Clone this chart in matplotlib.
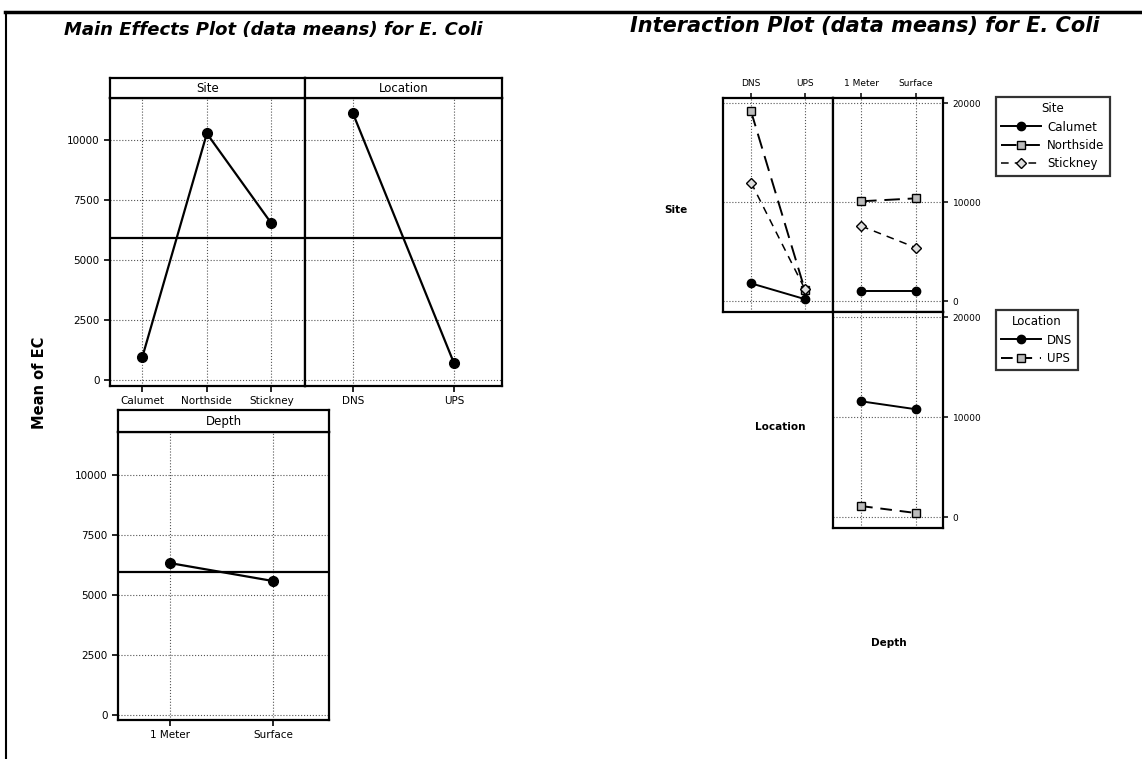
import matplotlib
matplotlib.use("Agg")
import matplotlib.pyplot as plt
from matplotlib.lines import Line2D

# main effects (data means)
site_levels = ["Calumet", "Northside", "Stickney"]
site_means = [960, 10290, 6540]
location_levels = ["DNS", "UPS"]
location_means = [11125, 710]
depth_levels = ["1 Meter", "Surface"]
depth_means = [6330, 5580]
grand_mean = 5950

# interaction means
calumet_by_location = [1800, 200]
northside_by_location = [19200, 1100]
stickney_by_location = [12000, 1200]
calumet_by_depth = [1000, 1000]
northside_by_depth = [10100, 10400]
stickney_by_depth = [7600, 5400]
dns_by_depth = [11600, 10800]
ups_by_depth = [1100, 400]

W, H = 1142, 759
fig = plt.figure(figsize=(W / 100, H / 100), dpi=100)
fig.patch.set_facecolor("white")


def box(x0, y0, x1, y1):
    return [x0 / W, 1 - y1 / H, (x1 - x0) / W, (y1 - y0) / H]


def fx(x):
    return x / W


def fy(y):
    return 1 - y / H


# frame around the page
fig.add_artist(Line2D([fx(5), fx(1142)], [fy(12), fy(12)], color="black", lw=2.5))
fig.add_artist(Line2D([fx(6), fx(6)], [fy(12), fy(759)], color="black", lw=1.5))


def style_panel(ax):
    for s in ax.spines.values():
        s.set_linewidth(1.6)
    ax.grid(True, linestyle=":", color="#555555", lw=0.8)
    ax.set_axisbelow(True)
    ax.tick_params(labelsize=7.5, length=4, width=1.2, direction="out")


def strip(rect, label):
    sa = fig.add_axes(rect)
    sa.set_xticks([])
    sa.set_yticks([])
    for s in sa.spines.values():
        s.set_linewidth(1.6)
    sa.text(0.5, 0.5, label, ha="center", va="center", fontsize=8.5)
    return sa


main_ylim = (-240, 11770)
main_yticks = [0, 2500, 5000, 7500, 10000]

# ---- Main effects plot ----
fig.text(fx(64), fy(30), "Main Effects Plot (data means) for E. Coli",
         fontsize=13, fontweight="bold", style="italic", va="center", ha="left")

ax1 = fig.add_axes(box(110, 98, 305, 386))
ax1.plot(range(3), site_means, color="black", marker="o", ms=7, lw=1.6)
ax1.axhline(grand_mean, color="black", lw=1.6)
ax1.set_xlim(-0.5, 2.52)
ax1.set_ylim(*main_ylim)
ax1.set_xticks(range(3))
ax1.set_xticklabels(site_levels)
ax1.set_yticks(main_yticks)
style_panel(ax1)
strip(box(110, 78, 305, 98), "Site")

ax2 = fig.add_axes(box(305, 98, 502, 386))
ax2.plot(range(2), location_means, color="black", marker="o", ms=7, lw=1.6)
ax2.axhline(grand_mean, color="black", lw=1.6)
ax2.set_xlim(-0.475, 1.475)
ax2.set_ylim(*main_ylim)
ax2.set_xticks(range(2))
ax2.set_xticklabels(location_levels)
ax2.set_yticks(main_yticks)
style_panel(ax2)
ax2.tick_params(axis="y", left=False, labelleft=False)
strip(box(305, 78, 502, 98), "Location")

ax3 = fig.add_axes(box(118, 432, 329, 720))
ax3.plot(range(2), depth_means, color="black", marker="o", ms=7, lw=1.6)
ax3.axhline(grand_mean, color="black", lw=1.6)
ax3.set_xlim(-0.5, 1.54)
ax3.set_ylim(-210, 11790)
ax3.set_xticks(range(2))
ax3.set_xticklabels(depth_levels)
ax3.set_yticks(main_yticks)
style_panel(ax3)
strip(box(118, 410, 329, 432), "Depth")

fig.text(fx(40), fy(383), "Mean of EC", rotation=90, fontsize=10.5,
         fontweight="bold", ha="center", va="center")

# ---- Interaction plot ----
fig.text(fx(630), fy(26), "Interaction Plot (data means) for E. Coli",
         fontsize=15, fontweight="bold", style="italic", va="center", ha="left")

int_ylim = (-1100, 20550)
int_yticks = [0, 10000, 20000]
site_styles = [
    dict(color="black", marker="o", ms=6, lw=1.4, linestyle="-", mfc="black"),
    dict(color="black", marker="s", ms=5.5, lw=1.4, linestyle=(0, (8, 4)),
         mfc="#bbbbbb", mec="black"),
    dict(color="black", marker="D", ms=5, lw=1.1, linestyle=(0, (5, 4)),
         mfc="#dddddd", mec="black"),
]
loc_styles = [
    dict(color="black", marker="o", ms=6, lw=1.4, linestyle="-", mfc="black"),
    dict(color="black", marker="s", ms=5.5, lw=1.4, linestyle=(0, (6, 4)),
         mfc="#bbbbbb", mec="black"),
]


def style_int(ax):
    for s in ax.spines.values():
        s.set_linewidth(1.6)
    ax.grid(True, linestyle=":", color="#555555", lw=0.8)
    ax.set_axisbelow(True)
    ax.set_ylim(*int_ylim)
    ax.set_yticks(int_yticks)
    ax.tick_params(labelsize=6.5, length=3.5, width=1.1, direction="out",
                   left=False, labelleft=False, bottom=False, labelbottom=False)


# Site x Location
a11 = fig.add_axes(box(723, 98, 833, 312))
site_loc = [calumet_by_location, northside_by_location, stickney_by_location]
for vals, st in zip(site_loc, site_styles):
    a11.plot(range(2), vals, **st)
a11.set_xlim(-0.52, 1.52)
a11.set_xticks(range(2))
a11.set_xticklabels(location_levels)
style_int(a11)
a11.tick_params(top=True, labeltop=True)

# Site x Depth
a12 = fig.add_axes(box(833, 98, 943, 312))
site_dep = [calumet_by_depth, northside_by_depth, stickney_by_depth]
handles_site = []
for vals, st, name in zip(site_dep, site_styles, site_levels):
    h, = a12.plot(range(2), vals, label=name, **st)
    handles_site.append(h)
a12.set_xlim(-0.51, 1.49)
a12.set_xticks(range(2))
a12.set_xticklabels(depth_levels)
style_int(a12)
a12.tick_params(top=True, labeltop=True, right=True, labelright=True)

# Location x Depth
a22 = fig.add_axes(box(833, 312, 943, 528))
handles_loc = []
for vals, st, name in zip([dns_by_depth, ups_by_depth], loc_styles, location_levels):
    h, = a22.plot(range(2), vals, label=name, **st)
    handles_loc.append(h)
a22.set_xlim(-0.51, 1.49)
a22.set_xticks(range(2))
style_int(a22)
a22.tick_params(right=True, labelright=True)

# diagonal labels
fig.text(fx(676), fy(210), "Site", fontsize=7.5, fontweight="bold", ha="center", va="center")
fig.text(fx(780), fy(427), "Location", fontsize=7.5, fontweight="bold", ha="center", va="center")
fig.text(fx(889), fy(643), "Depth", fontsize=7.5, fontweight="bold", ha="center", va="center")

leg_kw = dict(loc="upper left", fontsize=8.5, title_fontsize=8.5, frameon=True,
              fancybox=False, handlelength=3.4, borderpad=0.45, labelspacing=0.45,
              handletextpad=0.5, borderaxespad=0.0)
leg1 = fig.legend(handles=handles_site, labels=site_levels, title="Site",
                  bbox_to_anchor=(fx(996), fy(97)), **leg_kw)
leg1.get_frame().set_edgecolor("black")
leg1.get_frame().set_linewidth(1.6)

leg2 = fig.legend(handles=handles_loc, labels=location_levels, title="Location",
                  bbox_to_anchor=(fx(996), fy(310)), **leg_kw)
leg2.get_frame().set_edgecolor("black")
leg2.get_frame().set_linewidth(1.6)

fig.savefig("out.png", dpi=100)
